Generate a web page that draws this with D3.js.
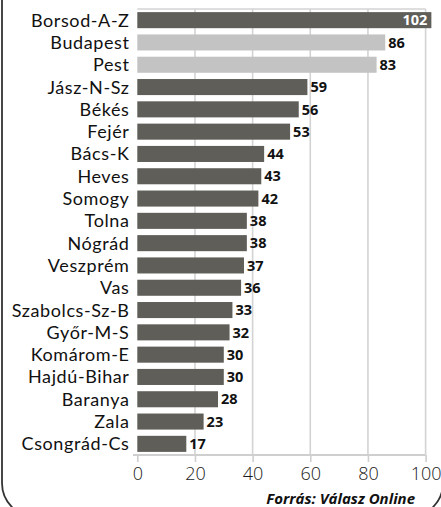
<!DOCTYPE html>
<html><head><meta charset="utf-8">
<script src="https://cdn.jsdelivr.net/npm/d3@7"></script>
<style>body{margin:0;background:#fff;}svg{display:block;}</style>
</head><body>
<script>
const categories = ["Borsod-A-Z","Budapest","Pest","Jász-N-Sz","Békés","Fejér","Bács-K","Heves","Somogy","Tolna","Nógrád","Veszprém","Vas","Szabolcs-Sz-B","Győr-M-S","Komárom-E","Hajdú-Bihar","Baranya","Zala","Csongrád-Cs"];
const values = [102,86,83,59,56,53,44,43,42,38,38,37,36,33,32,30,30,28,23,17];
const highlight = ["Budapest","Pest"];
const ticks = [0,20,40,60,80,100];
const source = "Forrás: Válasz Online";

const W = 441, H = 507;
const svg = d3.select("body").append("svg").attr("width", W).attr("height", H);
const font = "'Open Sans', Lato, sans-serif";
const labelFont = "Lato, 'Open Sans', sans-serif";

// frame
svg.append("rect").attr("x", 2).attr("y", -40).attr("width", 441).attr("height", 557)
  .attr("rx", 34).attr("fill", "none").attr("stroke", "#333").attr("stroke-width", 1.8);

const x = d3.scaleLinear().domain([0,100]).range([137.3, 425.6]);
const y = d3.scaleBand().domain(categories).range([9, 455]).paddingInner(0.28).paddingOuter(0.14);

// grid
const g = svg.append("g");
g.selectAll("line.grid").data(ticks.slice(1)).join("line")
  .attr("x1", d => x(d)).attr("x2", d => x(d)).attr("y1", 9).attr("y2", 455)
  .attr("stroke", "#d3d3d3").attr("stroke-width", 1.6);
g.append("line").attr("x1", x(0)).attr("x2", x(100)).attr("y1", 9).attr("y2", 9)
  .attr("stroke", "#d3d3d3").attr("stroke-width", 1.6);

// axis
const axis = svg.append("g").attr("transform", "translate(0,455)")
  .call(d3.axisBottom(x).tickValues(ticks).tickSize(7).tickSizeOuter(0).tickPadding(5));
axis.select(".domain").attr("stroke", "#cfcfcf").attr("stroke-width", 1.8).attr("d", `M133,0H${x(100)}`);
axis.selectAll(".tick line").attr("stroke", "#cfcfcf").attr("stroke-width", 1.6);
axis.selectAll(".tick text").attr("font-family", font).attr("font-weight", 300).attr("font-size", 18).attr("fill", "#1a1a1a");

// bars
svg.selectAll("rect.bar").data(categories).join("rect")
  .attr("x", x(0)).attr("y", d => y(d))
  .attr("width", (d,i) => x(values[i]) - x(0)).attr("height", y.bandwidth())
  .attr("fill", d => highlight.includes(d) ? "#c3c3c3" : "#5f5e59");

// category labels
svg.selectAll("text.cat").data(categories).join("text")
  .attr("x", 129.5).attr("y", d => y(d) + y.bandwidth()/2).attr("dy", "0.36em")
  .attr("text-anchor", "end").attr("font-family", labelFont).attr("font-weight", 400)
  .attr("font-size", 18).attr("letter-spacing", 0.6).attr("fill", "#111")
  .text(d => d);

// value labels
svg.selectAll("text.val").data(categories).join("text")
  .attr("x", (d,i) => values[i] > 100 ? x(values[i]) - 4 : x(values[i]) + 3)
  .attr("y", d => y(d) + y.bandwidth()/2).attr("dy", "0.36em")
  .attr("text-anchor", (d,i) => values[i] > 100 ? "end" : "start")
  .attr("font-family", font).attr("font-weight", 700).attr("font-size", 14.5)
  .attr("fill", (d,i) => values[i] > 100 ? "#fff" : "#111")
  .text((d,i) => values[i]);

// source
svg.append("text").attr("x", 415).attr("y", 504).attr("text-anchor", "end")
  .attr("font-family", font).attr("font-weight", 700).attr("font-style", "italic")
  .attr("font-size", 15).attr("fill", "#111").text(source);
</script>
</body></html>
